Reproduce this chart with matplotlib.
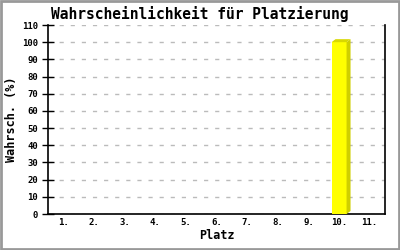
import matplotlib
matplotlib.use("Agg")
import matplotlib.pyplot as plt
from matplotlib.patches import Polygon

# data
places = [1, 2, 3, 4, 5, 6, 7, 8, 9, 10, 11]
place_labels = ["1.", "2.", "3.", "4.", "5.", "6.", "7.", "8.", "9.", "10.", "11."]
probs = [0, 0, 0, 0, 0, 0, 0, 0, 0, 100, 0]
y_ticks = list(range(0, 111, 10))

MONO = "DejaVu Sans Mono"

fig = plt.figure(figsize=(4, 2.5), dpi=100)
fig.patch.set_facecolor("white")
ax = fig.add_axes([0.12, 0.144, 0.8425, 0.756])

bar_w = 0.49
dx = 0.13   # depth of the 3d side, x data units
dy = 1.75   # depth of the 3d top, y data units

for x, v in zip(places, probs):
    if v <= 0:
        continue
    ax.bar(x, v, width=bar_w, color="#ffff00", edgecolor="none", zorder=3)
    l, r = x - bar_w / 2, x + bar_w / 2
    side = Polygon([(r, 0), (r + dx, dy), (r + dx, v + dy), (r, v)],
                   closed=True, facecolor="#cfcf00", edgecolor="none", zorder=3,
                   clip_on=False)
    top = Polygon([(l, v), (l + dx, v + dy), (r + dx, v + dy), (r, v)],
                  closed=True, facecolor="#d8d800", edgecolor="none", zorder=3)
    ax.add_patch(side)
    ax.add_patch(top)

ax.set_xlim(0.5, 11.5)
ax.set_ylim(0, 110)
ax.set_xticks(places)
ax.set_xticklabels(place_labels, fontfamily=MONO, fontsize=6.5, fontweight="bold")
ax.set_yticks(y_ticks)
ax.set_yticklabels([str(t) for t in y_ticks], fontfamily=MONO, fontsize=6.5, fontweight="bold")
ax.tick_params(axis="x", length=0, pad=3)
ax.tick_params(axis="y", direction="inout", length=8, width=1, pad=3)

ax.grid(axis="y", color="#bbbbbb", linestyle=(0, (3, 5)), linewidth=1, zorder=0)
ax.set_axisbelow(True)

ax.spines["top"].set_visible(False)
for s in ("left", "bottom", "right"):
    ax.spines[s].set_linewidth(1.2)
    ax.spines[s].set_color("black")

fig.suptitle("Wahrscheinlichkeit für Platzierung", x=0.5, y=0.975, fontfamily=MONO,
             fontsize=10.5, fontweight="bold", va="top")
ax.set_xlabel("Platz", fontfamily=MONO, fontsize=8.5, fontweight="bold", labelpad=1)
ax.set_ylabel("Wahrsch. (%)", fontfamily=MONO, fontsize=8.5, fontweight="bold", labelpad=3)

# grey frame around the picture
fig.add_artist(plt.Rectangle((0.002, 0.003), 0.996, 0.994, transform=fig.transFigure,
                             fill=False, edgecolor="#999999", linewidth=2))

fig.savefig("out.png", dpi=100)
